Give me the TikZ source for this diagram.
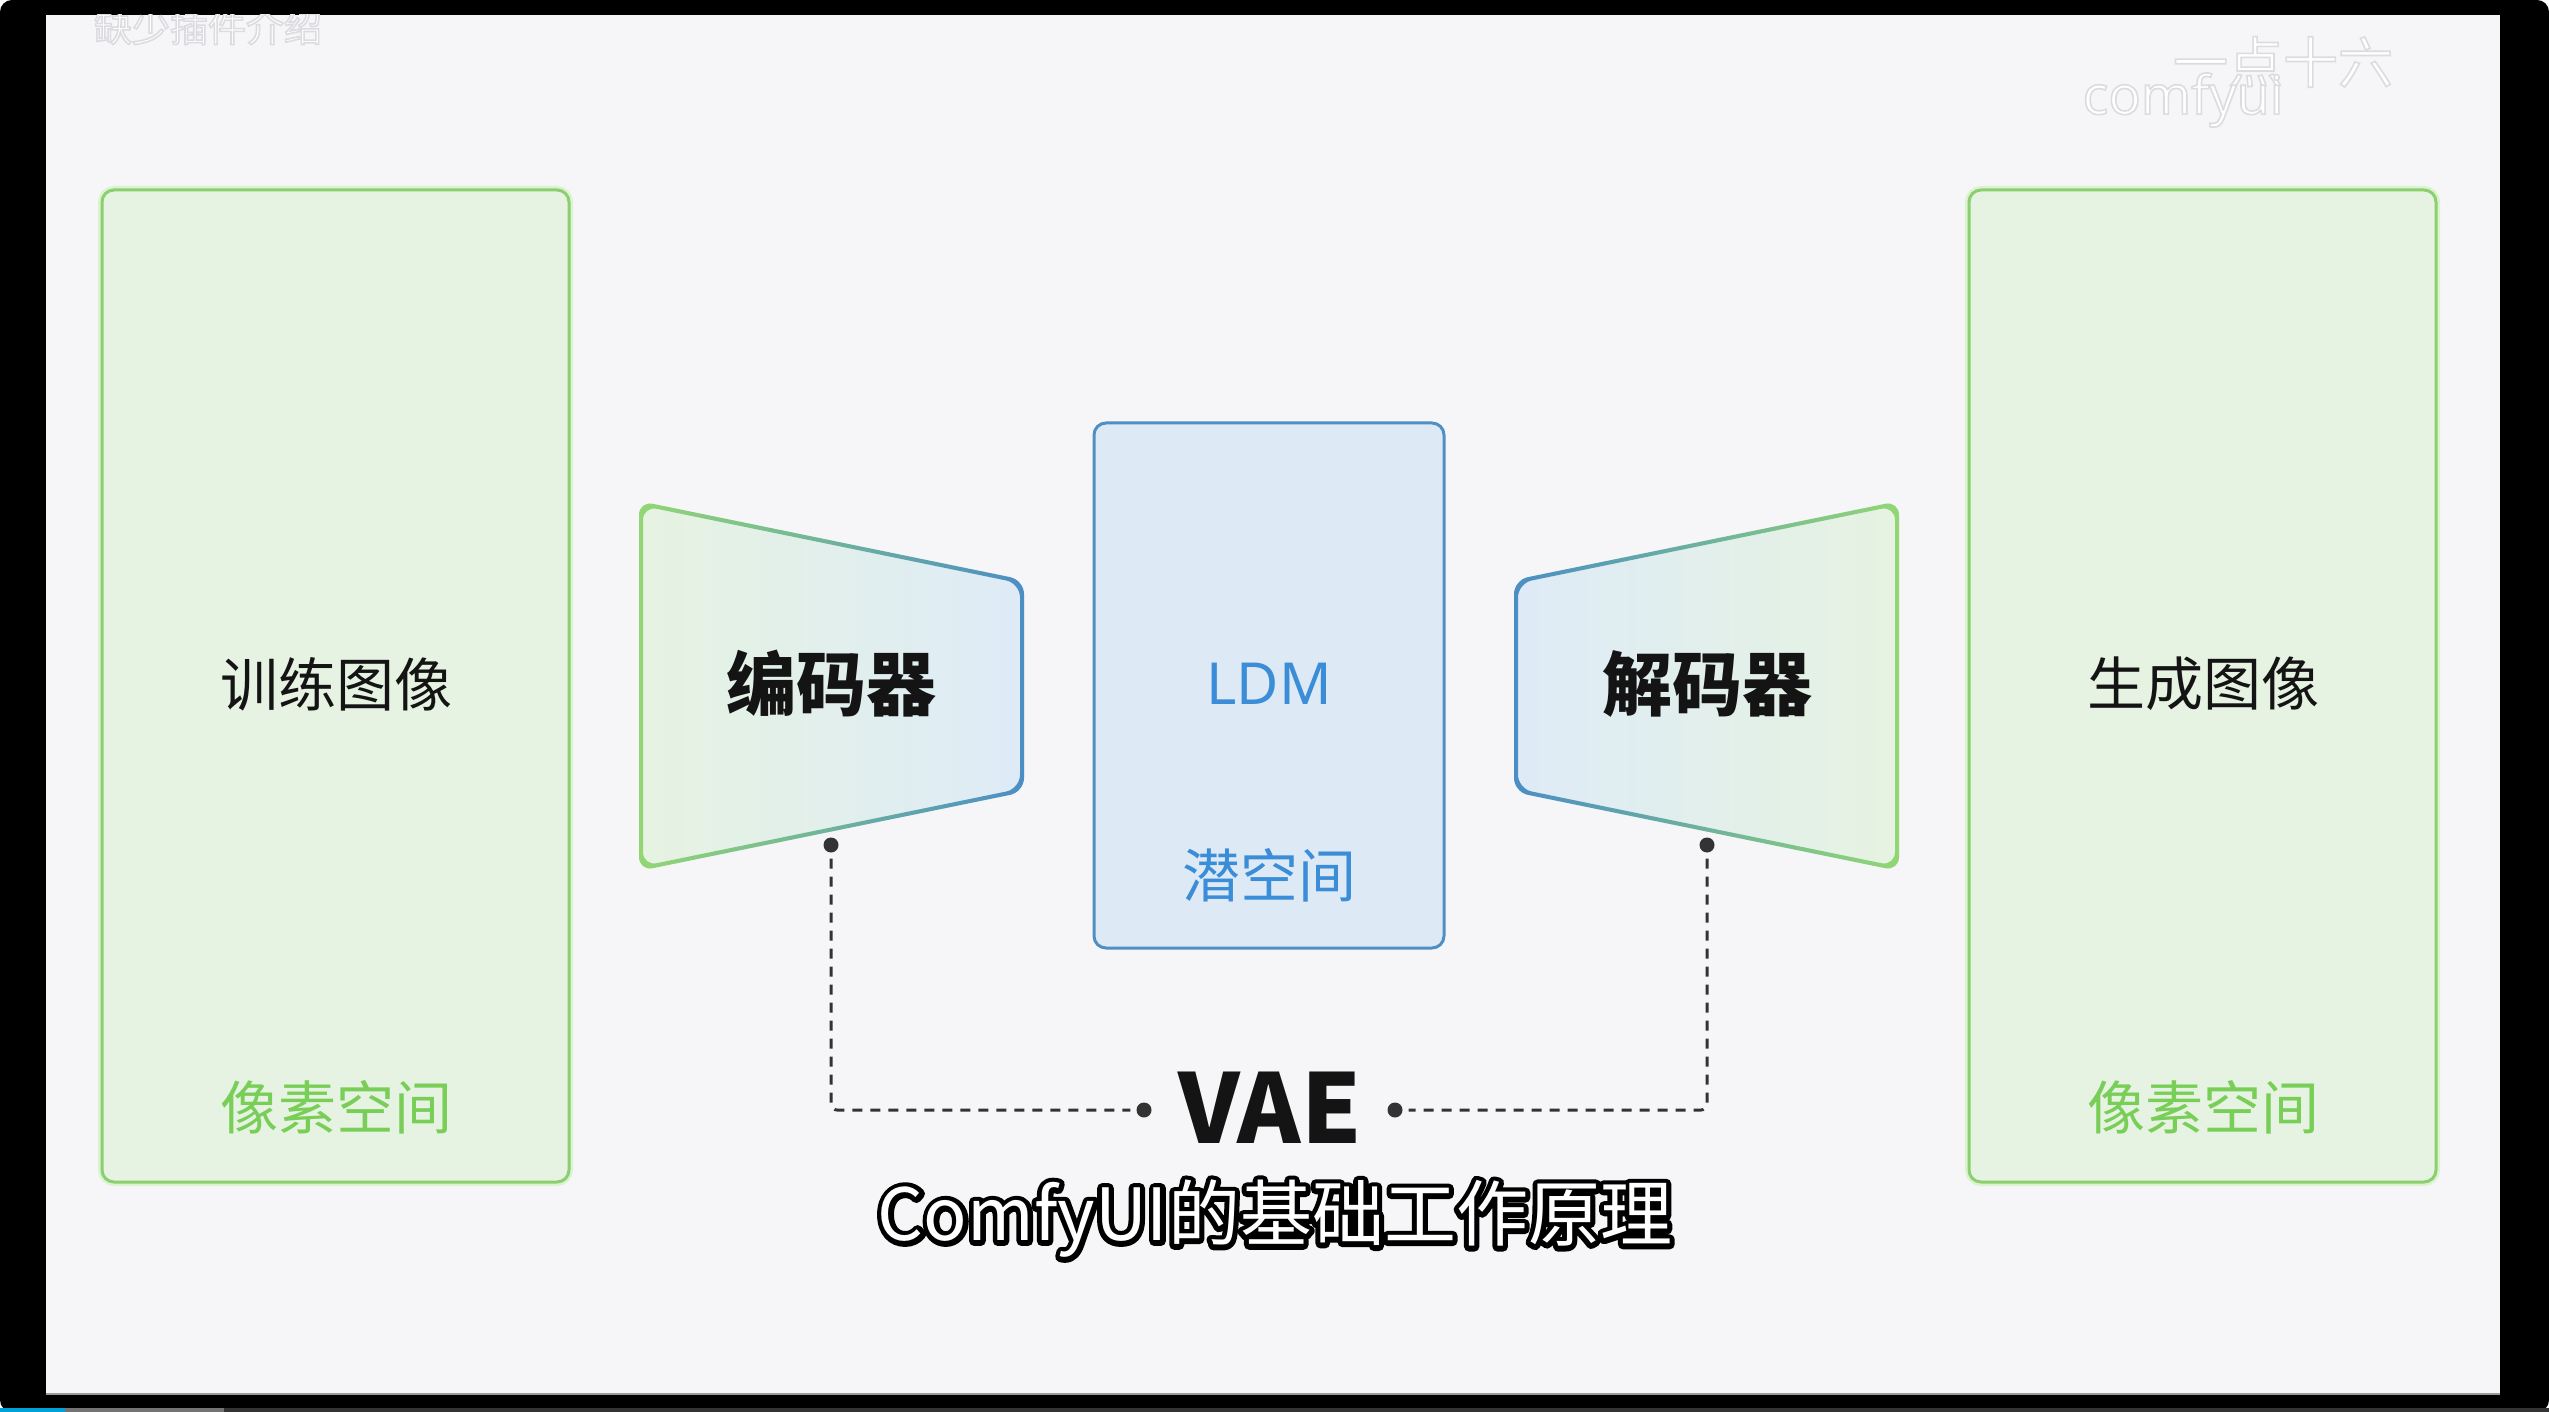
\documentclass[tikz,border=0pt]{standalone}
\usepackage{fontspec}
\setmainfont{Noto Sans}
\newfontfamily\cjk{Noto Sans CJK SC}
\newfontfamily\wmfont{Open Sans}
\usetikzlibrary{calc}
\definecolor{bg}{HTML}{F6F6F8}
\definecolor{gbfill}{HTML}{E6F3E2}
\definecolor{gbdraw}{HTML}{8CCF70}
\definecolor{gbglow}{HTML}{C9F2B4}
\definecolor{gtext}{HTML}{78CE56}
\definecolor{ldmfill}{HTML}{DDEAF6}
\definecolor{ldmdraw}{HTML}{4F8FC3}
\definecolor{btext}{HTML}{3A8DD6}
\definecolor{trgfill}{HTML}{E6F3E1}
\definecolor{trbfill}{HTML}{DEEBF7}
\definecolor{trgdraw}{HTML}{92D774}
\definecolor{trbdraw}{HTML}{4B8EC4}
\definecolor{dark}{HTML}{333333}
\definecolor{ink}{HTML}{141414}
\definecolor{barblue}{HTML}{00A1D6}
\newcommand{\wmoutline}{\special{pdf:literal direct 2 Tr 1.6 w 0.86 0.86 0.88 RG}}
\tikzset{
  greenbox/.style={draw=gbdraw, line width=3pt, fill=gbfill, rounded corners=12pt,
    minimum width=467pt, minimum height=992pt, inner sep=0pt},
  ldmbox/.style={draw=ldmdraw, line width=3pt, fill=ldmfill, rounded corners=12pt,
    minimum width=350pt, minimum height=525pt, inner sep=0pt},
  plaintext/.style={text=ink, font=\cjk\fontsize{58}{66}\selectfont, inner sep=0pt},
  boldtext/.style={text=ink, font=\cjk\bfseries\fontsize{70}{80}\selectfont, inner sep=0pt},
  greentext/.style={text=gtext, font=\cjk\fontsize{58}{66}\selectfont, inner sep=0pt},
  bluetext/.style={text=btext, font=\cjk\fontsize{58}{66}\selectfont, inner sep=0pt},
  dotnode/.style={circle, fill=dark, minimum size=15pt, inner sep=0pt},
  dashline/.style={draw=dark, line width=3pt, dash pattern=on 10pt off 8pt,
    rounded corners=6pt, shorten <=6pt, shorten >=6pt},
  subtext/.style={font=\cjk\fontsize{72}{82}\selectfont, inner sep=0pt},
  wmtext/.style={font=\cjk\fontsize{38}{44}\selectfont, inner sep=0pt, text=white},
}
\begin{document}
\begin{tikzpicture}[x=1pt,y=-1pt]
\useasboundingbox (0,0) rectangle (2549,1412);
\fill[white] (0,0) rectangle (2549,1412);
\fill[black, rounded corners=12pt] (0,0) rectangle (2549,1412);
\fill[bg] (46,15) rectangle (2500,1395);
\draw[black!40, line width=2pt] (46,1394) -- (2500,1394);
% progress bar
\fill[barblue] (0,1408) rectangle (65,1412);
\fill[black!55] (65,1408) rectangle (224,1412);
\fill[black!80] (224,1408) rectangle (2549,1412);

% watermarks
\begin{scope}
\clip (46,15) rectangle (2500,1395);
\node[wmtext] (wmL) at (208,27) {\wmoutline 缺少插件介绍};
\node[wmtext, font=\cjk\fontsize{55}{60}\selectfont] (wmR) at (2283,62) {\wmoutline 一点十六};
\node[wmtext, font=\wmfont\fontsize{54}{60}\selectfont] (wmC) at (2183,100) {\wmoutline comfyui};
\end{scope}

% pixel-space boxes
\draw[gbglow, line width=8pt, rounded corners=12pt, opacity=0.6] (102,190) rectangle (569,1182);
\node[greenbox] (trainbox) at (335.5,686) {};
\node[plaintext] (train) at (336,684) {训练图像};
\node[greentext] (pixL) at (336,1107) {像素空间};

\draw[gbglow, line width=8pt, rounded corners=12pt, opacity=0.6] (1969,190) rectangle (2436,1182);
\node[greenbox] (genbox) at (2202.5,686) {};
\node[plaintext] (gen) at (2203,684) {生成图像};
\node[greentext] (pixR) at (2203,1107) {像素空间};

% encoder
\coordinate (e1) at (639,501);
\coordinate (e2) at (1024,580);
\coordinate (e3) at (1024,792);
\coordinate (e4) at (639,871);
\shade[left color=trgfill, right color=trbfill, rounded corners=14pt]
  (e1) -- (e2) -- (e3) -- (e4) -- cycle;
\shade[left color=trgdraw, right color=trbdraw, even odd rule, rounded corners=14pt]
  (e1) -- (e2) -- (e3) -- (e4) -- cycle
  (643,506) -- (1020,583.3) -- (1020,788.7) -- (643,866) -- cycle;
\node[boldtext] (enc) at (831,684) {编码器};

% decoder
\coordinate (d1) at (1899,501);
\coordinate (d2) at (1514,580);
\coordinate (d3) at (1514,792);
\coordinate (d4) at (1899,871);
\shade[left color=trbfill, right color=trgfill, rounded corners=14pt]
  (d1) -- (d2) -- (d3) -- (d4) -- cycle;
\shade[left color=trbdraw, right color=trgdraw, even odd rule, rounded corners=14pt]
  (d1) -- (d2) -- (d3) -- (d4) -- cycle
  (1895,506) -- (1518,583.3) -- (1518,788.7) -- (1895,866) -- cycle;
\node[boldtext] (dec) at (1707,684) {解码器};

% latent
\node[ldmbox] (ldmbox) at (1269,685.5) {};
\node[text=btext, font=\fontsize{58}{66}\selectfont, inner sep=0pt] (ldm) at (1269,684) {LDM};
\node[bluetext] (latent) at (1269,875) {潜空间};

% VAE connectors
\node[dotnode] (edot) at (831,845) {};
\node[dotnode] (ddot) at (1707,845) {};
\node[text=ink, font=\cjk\bfseries\fontsize{96}{108}\selectfont, inner sep=0pt] (vae) at (1270,1108) {VAE};
\node[dotnode] (vdotL) at (1144,1110) {};
\node[dotnode] (vdotR) at (1395,1110) {};
\draw[dashline] (edot) |- (vdotL);
\draw[dashline] (ddot) |- (vdotR);

% subtitle with outline (stroked glyphs under white fill)
\node[subtext, text=black] (subline) at (1275,1219)
  {\special{pdf:literal direct 1 Tr 10 w 1 j}ComfyUI的基础工作原理\special{pdf:literal direct 0 Tr 1 w}};
\node[subtext, text=white] (subtitle) at (1275,1219) {ComfyUI的基础工作原理};
\end{tikzpicture}
\end{document}
